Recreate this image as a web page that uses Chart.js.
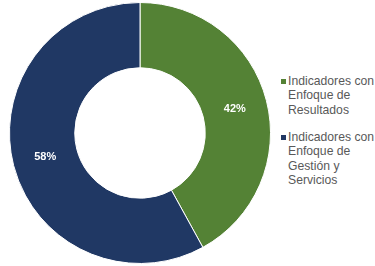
<!DOCTYPE html>
<html>
<head>
<meta charset="utf-8">
<script src="https://cdn.jsdelivr.net/npm/chart.js@4/dist/chart.umd.min.js"></script>
<style>
  html, body { margin: 0; padding: 0; background: #fff; }
  #wrap { position: relative; width: 375px; height: 266px; }
  #chartBox { position: absolute; left: 0; top: 0; width: 280px; height: 266px; }
  #legend { position: absolute; left: 280px; top: 74px; width: 95px; white-space: nowrap;
    font-family: "Liberation Sans", Arial, sans-serif; font-size: 12.2px; line-height: 14.4px; color: #595959; }
  .item { position: relative; padding-left: 8px; margin-bottom: 12.8px; }
  .sw { position: absolute; left: 1px; top: 5px; width: 5px; height: 5px; }
</style>
</head>
<body>
<div id="wrap">
  <div id="chartBox"><canvas id="donut"></canvas></div>
  <div id="legend"></div>
</div>
<script>
const categories = ['Indicadores con Enfoque de Resultados', 'Indicadores con Enfoque de Gestión y Servicios'];
const legendLines = [['Indicadores con', 'Enfoque de', 'Resultados'], ['Indicadores con', 'Enfoque de', 'Gestión y', 'Servicios']];
const values = [42, 58];
const colors = ['#548235', '#203864'];

// etiquetas de porcentaje dentro de cada segmento
const pctLabels = {
  id: 'pctLabels',
  afterDatasetsDraw(chart) {
    const ctx = chart.ctx;
    const meta = chart.getDatasetMeta(0);
    const total = values.reduce((a, b) => a + b, 0);
    ctx.save();
    ctx.font = 'bold 11px "Liberation Sans", Arial, sans-serif';
    ctx.fillStyle = '#ffffff';
    ctx.textAlign = 'center';
    ctx.textBaseline = 'middle';
    meta.data.forEach((arc, i) => {
      const p = arc.tooltipPosition();
      ctx.fillText(Math.round(values[i] / total * 100) + '%', p.x, p.y);
    });
    ctx.restore();
  }
};

new Chart(document.getElementById('donut'), {
  type: 'doughnut',
  data: {
    labels: categories,
    datasets: [{ data: values, backgroundColor: colors, borderColor: '#ffffff', borderWidth: 1 }]
  },
  options: {
    responsive: true,
    maintainAspectRatio: false,
    animation: false,
    cutout: '50%',
    layout: { padding: 2 },
    plugins: { legend: { display: false }, tooltip: { enabled: false } }
  },
  plugins: [pctLabels]
});

document.getElementById('legend').innerHTML = legendLines.map((lines, i) => `
  <div class="item"><span class="sw" style="background:${colors[i]}"></span>${lines.join('<br>')}</div>
`).join('');
</script>
</body>
</html>
